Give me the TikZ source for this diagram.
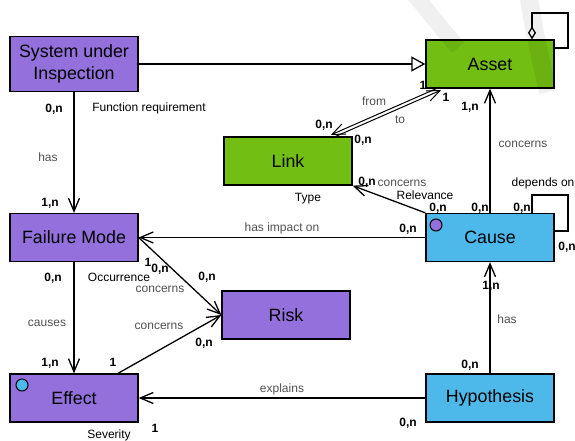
\documentclass[tikz,border=0pt]{standalone}
\usepackage{fontspec}
\setmainfont{Liberation Sans}
\usetikzlibrary{arrows.meta}
\definecolor{fmpurple}{RGB}{147,112,219}
\definecolor{assetgreen}{RGB}{114,190,18}
\definecolor{causeblue}{RGB}{76,185,234}
\definecolor{rolegray}{RGB}{80,80,80}
\begin{document}
\begin{tikzpicture}[
  x = 1pt, y = -1pt,
  entity/.style = {
    shape = rectangle,
    draw = black,
    minimum width = 128pt,
    minimum height = 48pt,
    inner sep = 0pt,
    align = center,
    font = \fontsize{17.8}{22}\selectfont
  },
  card/.style = {
    font = \fontsize{12}{13}\selectfont\bfseries,
    inner sep = 0pt
  },
  role/.style = {
    font = \fontsize{12}{13}\selectfont,
    text = rolegray,
    inner sep = 0pt
  },
  attr/.style = {
    font = \fontsize{12}{13}\selectfont,
    inner sep = 0pt
  },
  tip/.style = {
    -{Straight Barb[length=13pt,width=11pt]}
  },
  every path/.style = {
    line width = 1.3pt
  }
]
  \useasboundingbox (0,0) rectangle (575,441);

  \node[entity, fill = fmpurple, minimum height = 55pt] (sys) at (74,64) {System under\\Inspection};
  \node[entity, fill = assetgreen] (asset) at (490,64) {Asset};
  \node[entity, fill = assetgreen] (link) at (288,161) {Link};
  \node[entity, fill = fmpurple] (fm) at (74,237.5) {Failure Mode};
  \node[entity, fill = causeblue] (cause) at (490,237.5) {Cause};
  \node[entity, fill = fmpurple] (risk) at (286,315) {Risk};
  \node[entity, fill = fmpurple] (effect) at (74,398) {Effect};
  \node[entity, fill = causeblue] (hyp) at (490,398) {Hypothesis};

  \node[circle, draw = black, line width = 1pt, fill = fmpurple, minimum size = 12pt, inner sep = 0pt] (cdot) at (436,225) {};
  \node[circle, draw = black, line width = 1pt, fill = causeblue, minimum size = 12pt, inner sep = 0pt] (edot) at (22,385) {};

  % self loops
  \coordinate (aloop) at (532,13);
  \coordinate (aloopa) at (568,13);
  \coordinate (aloopb) at (568,48);
  \draw[{Diamond[open, fill = white, length = 13pt, width = 8pt]}-] (aloop |- asset.north) |- (aloopa) |- (asset.east |- aloopb);
  \coordinate (cloop) at (532,195);
  \coordinate (cloopa) at (568,195);
  \coordinate (cloopb) at (568,231);
  \draw (cloop |- cause.north) |- (cloopa) |- (cause.east |- cloopb);

  \draw[-{Triangle[open, fill = white, length = 14pt, width = 15pt]}] (sys.east) -- (asset.west);
  \draw[tip] (sys) -- (fm);
  \draw[tip] (fm) -- (effect);
  \draw[tip] (cause) -- (fm);
  \draw[tip] (hyp) -- (effect);
  \draw[tip] (cause) -- (asset);
  \draw[tip] (hyp) -- (cause);
  \draw[tip] (cause.north west) -- (link.south east);
  \draw[tip] (fm.east) -- (risk.west);
  \draw[tip] ([xshift = 44pt]effect.north) -- (risk.west);

  % from / to
  \coordinate (lkend) at ([xshift = -21pt]link.north east);
  \coordinate (asend) at ([xshift = 15pt]asset.south west);
  \draw[tip, line width = 1pt] ([shift = {(-0.7,-1.5)}]asend) -- ([shift = {(-0.7,-1.5)}]lkend);
  \draw[tip, line width = 1pt] ([shift = {(0.7,1.5)}]lkend) -- ([shift = {(0.7,1.5)}]asend);

  % labels
  \node[card] (c1) at (54,109) {0,n};
  \node[attr] (a1) at (149,108) {Function requirement};
  \node[role] (r1) at (48,157) {has};
  \node[card] (c2) at (50,203) {1,n};

  \node[card] (c3) at (53,278) {0,n};
  \node[attr] (a2) at (119,277) {Occurrence};
  \node[role] (r2) at (47,323) {causes};
  \node[card] (c4) at (50,363) {1,n};

  \node[card] (c5) at (148,262) {1};
  \node[card] (c6) at (160,269) {0,n};
  \node[role] (r3) at (160,289) {concerns};
  \node[card] (c7) at (207,277) {0,n};

  \node[role] (r4) at (159,326) {concerns};
  \node[card] (c8) at (204,343) {0,n};
  \node[card] (c9) at (113,362) {1};

  \node[attr] (a3) at (109,435) {Severity};
  \node[card] (c10) at (155,428) {1};
  \node[role] (r5) at (282,389) {explains};
  \node[card] (c11) at (408,423) {0,n};

  \node[card] (c12) at (470,365) {0,n};
  \node[role] (r6) at (507,319) {has};
  \node[card] (c13) at (491,286) {1,n};

  \node[role] (r7) at (282,228) {has impact on};
  \node[card] (c14) at (408,229) {0,n};

  \node[card] (c15) at (438,208.5) {0,n};
  \node[card] (c16) at (480,208.5) {0,n};
  \node[card] (c17) at (522,208.5) {0,n};
  \node[attr] (a4) at (543,183) {depends on};
  \node[card] (c18) at (567,247) {0,n};

  \node[attr] (a5) at (425,195.5) {Relevance};
  \node[role] (r8) at (402,183.5) {concerns};
  \node[card] (c19) at (367,182) {0,n};
  \node[attr] (a6) at (308,199) {Type};

  \node[role] (r9) at (523,144) {concerns};
  \node[card] (c20) at (470,107) {1,n};
  \node[card] (c21) at (423,85) {1};
  \node[card] (c22) at (446,97) {1};
  \node[role] (r10) at (374,101) {from};
  \node[role] (r11) at (400,120) {to};
  \node[card] (c23) at (324,125) {0,n};
  \node[card] (c24) at (363,140) {0,n};

  % watermark
  \draw[line width = 16pt, black, opacity = 0.06] (412,-8) -- (458,48);
  \draw[line width = 18pt, black, opacity = 0.06] (528,-8) .. controls (534,30) .. (548,92);
\end{tikzpicture}
\end{document}
